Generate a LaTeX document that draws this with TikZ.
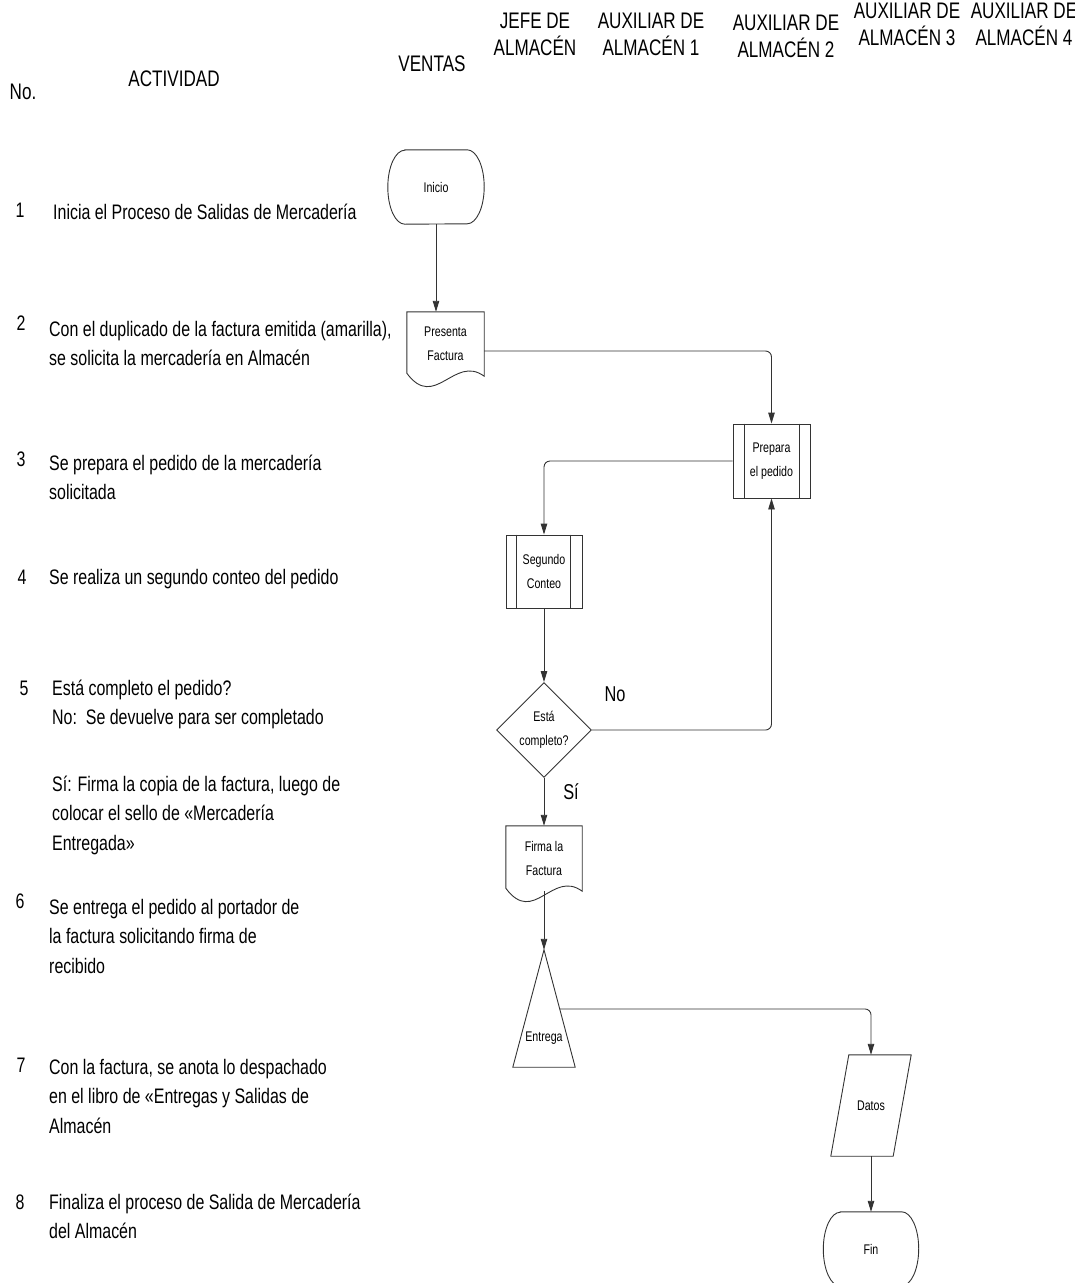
\documentclass[tikz,border=0pt]{standalone}
\usepackage{fontspec}
\setmainfont{Liberation Sans}[FakeStretch=0.76]
\usetikzlibrary{arrows.meta,shapes.geometric,calc}
\begin{document}
\begin{tikzpicture}[x=1pt,y=-1pt,
  ln/.style={draw=black!80,line width=0.9pt},
  arr/.style={ln,-{Triangle[length=11pt,width=6.5pt]},rounded corners=6pt},
  ntxt/.style={font=\fontsize{14}{24}\selectfont,align=center,inner sep=0pt},
  body/.style={font=\fontsize{21}{29.5}\selectfont,align=left,anchor=base west,inner sep=0pt},
  numtxt/.style={font=\fontsize{21}{24}\selectfont,anchor=base,inner sep=0pt},
  head/.style={font=\fontsize{22.5}{27}\selectfont,align=center,anchor=base,inner sep=0pt},
  lbl/.style={font=\fontsize{21.5}{24}\selectfont,inner sep=0pt}]
\useasboundingbox (0,0) rectangle (1075,1283);

% column headings (anchored at the baseline of their last line)
\node[head] (hno)  at (23,99)   {No.};
\node[head] (hact) at (174,86)  {ACTIVIDAD};
\node[head] (hven) at (432,71)  {VENTAS};
\node[head] (hjef) at (535,55)  {JEFE DE\\ALMACÉN};
\node[head] (hax1) at (651,55)  {AUXILIAR DE\\ALMACÉN 1};
\node[head] (hax2) at (786,57)  {AUXILIAR DE\\ALMACÉN 2};
\node[head] (hax3) at (907,45)  {AUXILIAR DE\\ALMACÉN 3};
\node[head] (hax4) at (1024,45) {AUXILIAR DE\\ALMACÉN 4};

% activity numbers
\node[numtxt] (n1) at (20,217.5)  {1};
\node[numtxt] (n2) at (21,330)    {2};
\node[numtxt] (n3) at (21,466)    {3};
\node[numtxt] (n4) at (22,584.5)  {4};
\node[numtxt] (n5) at (24,695.5)  {5};
\node[numtxt] (n6) at (20,908)    {6};
\node[numtxt] (n7) at (21,1072)   {7};
\node[numtxt] (n8) at (20,1209.5) {8};

% activity descriptions (anchored at the baseline of their last line)
\node[body] (a1)  at (53,219.5)  {Inicia el Proceso de Salidas de Mercadería};
\node[body] (a2)  at (49,365.5)  {Con el duplicado de la factura emitida (amarilla),\\se solicita la mercadería en Almacén};
\node[body] (a3)  at (49,499.5)  {Se prepara el pedido de la mercadería\\solicitada};
\node[body] (a4)  at (49,584.5)  {Se realiza un segundo conteo del pedido};
\node[body] (a5)  at (52,724.5)  {Está completo el pedido?\\No:\ \ Se devuelve para ser completado};
\node[body] (a5b) at (52,850)    {Sí: Firma la copia de la factura, luego de\\colocar el sello de «Mercadería\\Entregada»};
\node[body] (a6)  at (49,973)    {Se entrega el pedido al portador de\\la factura solicitando firma de\\recibido};
\node[body] (a7)  at (49,1133)   {Con la factura, se anota lo despachado\\en el libro de «Entregas y Salidas de\\Almacén};
\node[body] (a8)  at (49,1238.5) {Finaliza el proceso de Salida de Mercadería\\del Almacén};

% start terminator
\node[ntxt,minimum width=96pt,minimum height=74pt] (ini) at (436,187) {Inicio};
\draw[ln] ([xshift=17pt]ini.north west) -- ([xshift=-17pt]ini.north east)
  arc[start angle=90,end angle=-90,x radius=17pt,y radius=37pt]
  -- ([xshift=17pt]ini.south west)
  arc[start angle=270,end angle=90,x radius=17pt,y radius=37pt] -- cycle;

% document: Presenta Factura
\node[ntxt,minimum width=77pt,minimum height=64pt] (pf) at (445.5,344) {Presenta\\Factura};
\draw[ln] ($(pf.south west)+(0,-3)$) -- (pf.north west) -- (pf.north east) -- (pf.south east)
  .. controls ($(pf.south east)+(-30,-22)$) and ($(pf.south west)+(28,35)$) .. ($(pf.south west)+(0,-3)$) -- cycle;

% predefined process: Prepara el pedido
\node[ntxt,ln,minimum width=77pt,minimum height=74pt] (prep) at (771.5,461) {Prepara\\el pedido};
\draw[ln] ([xshift=12pt]prep.north west) -- ([xshift=12pt]prep.south west);
\draw[ln] ([xshift=-11pt]prep.north east) -- ([xshift=-11pt]prep.south east);

% predefined process: Segundo Conteo
\node[ntxt,ln,minimum width=76pt,minimum height=73pt] (seg) at (544,571.5) {Segundo\\Conteo};
\draw[ln] ([xshift=11pt]seg.north west) -- ([xshift=11pt]seg.south west);
\draw[ln] ([xshift=-12pt]seg.north east) -- ([xshift=-12pt]seg.south east);

% decision
\node[ntxt,ln,diamond,shape aspect=1,minimum width=95pt,minimum height=95pt] (dec) at (544,730) {Está\\completo?};

% document: Firma la Factura
\node[ntxt,minimum width=76pt,minimum height=65pt] (fir) at (544,858.5) {Firma la\\Factura};
\draw[ln] ($(fir.south west)+(0,-3)$) -- (fir.north west) -- (fir.north east) -- (fir.south east)
  .. controls ($(fir.south east)+(-30,-22)$) and ($(fir.south west)+(28,35)$) .. ($(fir.south west)+(0,-3)$) -- cycle;

% triangle: Entrega
\node[minimum width=62pt,minimum height=117pt,inner sep=0pt] (ent) at (544,1008.5) {};
\draw[ln] (ent.north) -- (ent.south east) -- (ent.south west) -- cycle;
\node[ntxt] (entl) at (544,1038) {Entrega};

% data: Datos
\node[ntxt,minimum width=80pt,minimum height=101pt] (dat) at (871,1105.5) {Datos};
\draw[ln] ($(dat.north west)+(18,0)$) -- (dat.north east) -- ($(dat.south east)+(-18,0)$) -- (dat.south west) -- cycle;

% end terminator
\node[ntxt,minimum width=95pt,minimum height=74pt] (fin) at (871,1249) {Fin};
\draw[ln] ([xshift=17pt]fin.north west) -- ([xshift=-17pt]fin.north east)
  arc[start angle=90,end angle=-90,x radius=17pt,y radius=37pt]
  -- ([xshift=17pt]fin.south west)
  arc[start angle=270,end angle=90,x radius=17pt,y radius=37pt] -- cycle;

% connectors
\draw[arr] (ini.south) -- (ini.south |- pf.north);
\draw[arr] ([yshift=-7pt]pf.east) -| (prep.north);
\draw[arr] (prep.west) -| (seg.north);
\draw[arr] (seg.south) -- (dec.north);
\draw[arr] (dec.east) -| (prep.south);
\node[lbl] (lno) at (615,694) {No};
\draw[arr] (dec.south) -- (fir.north);
\node[lbl] (lsi) at (571,792) {Sí};
\draw[arr] (fir.south) -- (ent.north);
\coordinate (entR) at ($(ent.north)!0.504!(ent.south east)$);
\draw[arr] (entR) -| (dat.north);
\draw[arr] (dat.south) -- (fin.north);
\end{tikzpicture}
\end{document}
